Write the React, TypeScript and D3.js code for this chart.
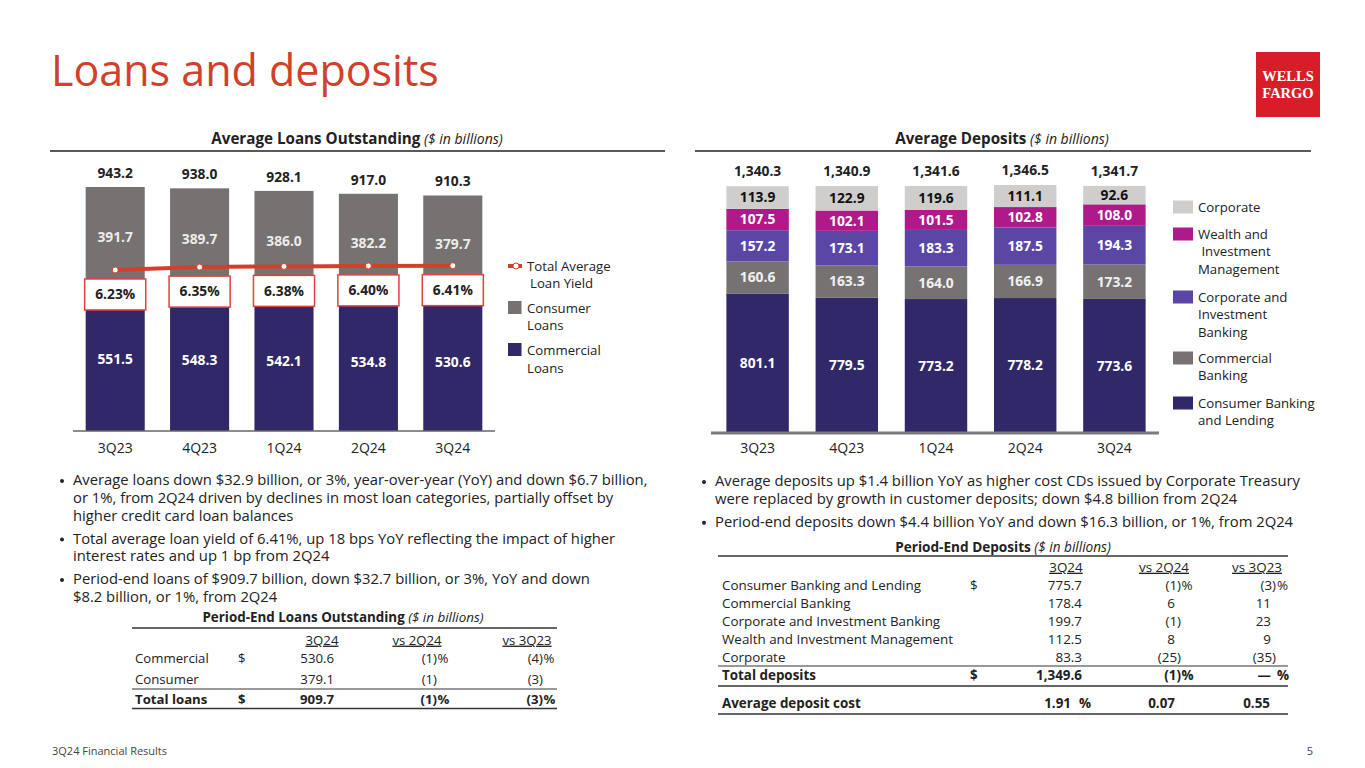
import * as d3 from "d3";
import React from "react";

// ---- data ----
const quarters = ["3Q23", "4Q23", "1Q24", "2Q24", "3Q24"];

const commercialLoans = [551.5, 548.3, 542.1, 534.8, 530.6];
const consumerLoans = [391.7, 389.7, 386.0, 382.2, 379.7];
const totalLoans = [943.2, 938.0, 928.1, 917.0, 910.3];
const loanYield = [6.23, 6.35, 6.38, 6.4, 6.41];

const cblDeposits = [801.1, 779.5, 773.2, 778.2, 773.6];
const commercialBankingDeposits = [160.6, 163.3, 164.0, 166.9, 173.2];
const cibDeposits = [157.2, 173.1, 183.3, 187.5, 194.3];
const wimDeposits = [107.5, 102.1, 101.5, 102.8, 108.0];
const corporateDeposits = [113.9, 122.9, 119.6, 111.1, 92.6];
const totalDeposits = [1340.3, 1340.9, 1341.6, 1346.5, 1341.7];

const loanBullets = [
	[
		"Average loans down $32.9 billion, or 3%, year-over-year (YoY) and down $6.7 billion,",
		"or 1%, from 2Q24 driven by declines in most loan categories, partially offset by",
		"higher credit card loan balances",
	],
	[
		"Total average loan yield of 6.41%, up 18 bps YoY reflecting the impact of higher",
		"interest rates and up 1 bp from 2Q24",
	],
	[
		"Period-end loans of $909.7 billion, down $32.7 billion, or 3%, YoY and down",
		"$8.2 billion, or 1%, from 2Q24",
	],
];

const depositBullets = [
	[
		"Average deposits up $1.4 billion YoY as higher cost CDs issued by Corporate Treasury",
		"were replaced by growth in customer deposits; down $4.8 billion from 2Q24",
	],
	["Period-end deposits down $4.4 billion YoY and down $16.3 billion, or 1%, from 2Q24"],
];

const tableHeaders = ["3Q24", "vs 2Q24", "vs 3Q23"];

const loanRowLabels = ["Commercial", "Consumer", "Total loans"];
const loanRowDollar = [true, false, true];
const loanRow3Q24 = ["530.6", "379.1", "909.7"];
const loanRowVs2Q24 = ["(1)", "(1)", "(1)"];
const loanRowVs3Q23 = ["(4)", "(3)", "(3)"];
const loanRowPct = [true, false, true];

const depRowLabels = [
	"Consumer Banking and Lending",
	"Commercial Banking",
	"Corporate and Investment Banking",
	"Wealth and Investment Management",
	"Corporate",
	"Total deposits",
];
const depRowDollar = [true, false, false, false, false, true];
const depRow3Q24 = ["775.7", "178.4", "199.7", "112.5", "83.3", "1,349.6"];
const depRowVs2Q24 = ["(1)", "6", "(1)", "8", "(25)", "(1)"];
const depRowVs3Q23 = ["(3)", "11", "23", "9", "(35)", "—"];
const depRowPct = [true, false, false, false, false, true];
const depositCost = ["1.91", "0.07", "0.55"];

// ---- styles ----
const FONT = "'Open Sans', 'Noto Sans', sans-serif";
const RED = "#d2402b";
const NAVY = "#31286a";
const GREY = "#777272";
const LIGHT = "#d0cdcd";
const MAGENTA = "#b0198a";
const PURPLE = "#5a47a5";
const TEXT = "#222";

const LoansChart = () => {
	const x = d3.scaleBand().domain(quarters).range([73, 495]).paddingInner(0.3).paddingOuter(0.15);
	const y = d3.scaleLinear().domain([0, 1000]).range([431, 172.3]);
	const yYield = d3.scaleLinear().domain([6.0, 6.5]).range([275.5, 263.5]);
	const bw = x.bandwidth();
	const cx = (q: string) => (x(q) ?? 0) + bw / 2;
	const line = d3
		.line<number>()
		.x((_, i) => cx(quarters[i]))
		.y((d) => yYield(d));

	return (
		<g>
			{quarters.map((q, i) => {
				const c0 = y(0);
				const c1 = y(commercialLoans[i]);
				const c2 = y(commercialLoans[i] + consumerLoans[i]);
				return (
					<g key={q}>
						<rect x={x(q)} y={c1} width={bw} height={c0 - c1} fill={NAVY} />
						<rect x={x(q)} y={c2} width={bw} height={c1 - c2} fill={GREY} />
						<text x={cx(q)} y={(c0 + c1) / 2} dy="0.35em" textAnchor="middle" fill="#fff" fontWeight={700} fontSize={13.8}>
							{commercialLoans[i].toFixed(1)}
						</text>
						<text x={cx(q)} y={(c1 + c2) / 2} dy="0.35em" textAnchor="middle" fill="#ececec" fontWeight={700} fontSize={13.8}>
							{consumerLoans[i].toFixed(1)}
						</text>
						<text x={cx(q)} y={y(totalLoans[i]) - 14} dy="0.35em" textAnchor="middle" fill={TEXT} fontWeight={700} fontSize={13.8}>
							{totalLoans[i].toFixed(1)}
						</text>
						<text x={cx(q)} y={448} dy="0.35em" textAnchor="middle" fill={TEXT} fontSize={14}>
							{q}
						</text>
					</g>
				);
			})}
			<line x1={73} x2={495} y1={y(0)} y2={y(0)} stroke="#666" strokeWidth={1.5} />
			<path d={line(loanYield) ?? ""} fill="none" stroke={RED} strokeWidth={4} />
			{quarters.map((q, i) => (
				<g key={q + "y"}>
					<circle cx={cx(q)} cy={yYield(loanYield[i])} r={3} fill="#fff" stroke={RED} strokeWidth={1} />
					<rect x={(x(q) ?? 0) - 1} y={yYield(loanYield[i]) + 9} width={bw + 2} height={31} fill="#fff" stroke="#e2413c" strokeWidth={1.5} />
					<text x={cx(q)} y={yYield(loanYield[i]) + 24.5} dy="0.35em" textAnchor="middle" fill={TEXT} fontWeight={700} fontSize={13.8}>
						{loanYield[i].toFixed(2)}%
					</text>
				</g>
			))}
			{/* legend */}
			<line x1={508} x2={522} y1={266} y2={266} stroke={RED} strokeWidth={4} />
			<circle cx={516} cy={266} r={3} fill="#fff" stroke={RED} strokeWidth={1} />
			<text x={527} y={266} dy="0.35em" fontSize={13.2} fill={TEXT}>Total Average</text>
			<text x={530} y={283} dy="0.35em" fontSize={13.2} fill={TEXT}>Loan Yield</text>
			<rect x={508} y={301} width={13.5} height={13} fill={GREY} />
			<text x={527} y={308} dy="0.35em" fontSize={13.2} fill={TEXT}>Consumer</text>
			<text x={527} y={325} dy="0.35em" fontSize={13.2} fill={TEXT}>Loans</text>
			<rect x={508} y={343} width={13.5} height={13} fill={NAVY} />
			<text x={527} y={350} dy="0.35em" fontSize={13.2} fill={TEXT}>Commercial</text>
			<text x={527} y={368} dy="0.35em" fontSize={13.2} fill={TEXT}>Loans</text>
		</g>
	);
};

const depositSeries = [
	{ name: "cbl", values: cblDeposits, color: NAVY, label: "#fff" },
	{ name: "cb", values: commercialBankingDeposits, color: GREY, label: "#f0f0f0" },
	{ name: "cib", values: cibDeposits, color: PURPLE, label: "#fff" },
	{ name: "wim", values: wimDeposits, color: MAGENTA, label: "#fff" },
	{ name: "corp", values: corporateDeposits, color: LIGHT, label: "#111" },
];

const depositLegend = [
	{ color: LIGHT, lines: ["Corporate"], y: 207 },
	{ color: MAGENTA, lines: ["Wealth and", " Investment", "Management"], y: 234 },
	{ color: PURPLE, lines: ["Corporate and", "Investment", "Banking"], y: 297 },
	{ color: GREY, lines: ["Commercial", "Banking"], y: 358 },
	{ color: NAVY, lines: ["Consumer Banking", "and Lending"], y: 403 },
];

const DepositsChart = () => {
	const x = d3.scaleBand().domain(quarters).range([713, 1159]).paddingInner(0.3).paddingOuter(0.15);
	const y = d3.scaleLinear().domain([100, 1400]).range([433, 174.3]);
	const bw = x.bandwidth();
	const cx = (q: string) => (x(q) ?? 0) + bw / 2;
	const stack = d3
		.stack<number>()
		.keys(depositSeries.map((s) => s.name))
		.value((i, key) => depositSeries.find((s) => s.name === key)!.values[i])(d3.range(quarters.length));

	return (
		<g>
			{stack.map((layer, li) => (
				<g key={layer.key}>
					{layer.map((seg, i) => {
						const lo = li === 0 ? y.range()[0] : y(seg[0]);
						const hi = y(seg[1]);
						return (
							<g key={i}>
								<rect x={x(quarters[i])} y={hi} width={bw} height={lo - hi} fill={depositSeries[li].color} />
								<text x={cx(quarters[i])} y={(lo + hi) / 2} dy="0.35em" textAnchor="middle" fill={depositSeries[li].label} fontWeight={700} fontSize={13.8}>
									{depositSeries[li].values[i].toFixed(1)}
								</text>
							</g>
						);
					})}
				</g>
			))}
			{quarters.map((q, i) => (
				<g key={q}>
					<text x={cx(q)} y={y(totalDeposits[i]) - 15} dy="0.35em" textAnchor="middle" fill={TEXT} fontWeight={700} fontSize={13.8}>
						{d3.format(",.1f")(totalDeposits[i])}
					</text>
					<text x={cx(q)} y={448} dy="0.35em" textAnchor="middle" fill={TEXT} fontSize={14}>
						{q}
					</text>
				</g>
			))}
			<line x1={711} x2={1159} y1={433} y2={433} stroke="#7a7a7a" strokeWidth={3} />
			{depositLegend.map((l) => (
				<g key={l.lines[0]}>
					<rect x={1173} y={l.y - 6.5} width={20} height={13} fill={l.color} />
					{l.lines.map((t, j) => (
						<text key={j} x={1198} y={l.y + j * 17.7} dy="0.35em" fontSize={13.2} fill={TEXT} style={{ whiteSpace: "pre" }}>
							{t}
						</text>
					))}
				</g>
			))}
		</g>
	);
};

const SectionHeader = ({ cx, title, x1, x2 }: { cx: number; title: string; x1: number; x2: number }) => (
	<g>
		<text x={cx} y={139} dy="0.35em" textAnchor="middle" fontSize={15.2} fill={TEXT}>
			<tspan fontWeight={700}>{title}</tspan>
			<tspan fontStyle="italic" fontSize={14}> ($ in billions)</tspan>
		</text>
		<line x1={x1} x2={x2} y1={151} y2={151} stroke="#222" strokeWidth={1.5} />
	</g>
);

const Bullets = ({ x, y0, items }: { x: number; y0: number; items: string[][] }) => {
	let y = y0;
	const out: React.ReactElement[] = [];
	items.forEach((lines, k) => {
		out.push(<circle key={"b" + k} cx={x + 3} cy={y + 1} r={2} fill={TEXT} />);
		lines.forEach((t, j) => {
			out.push(
				<text key={k + "-" + j} x={x + 14} y={y} dy="0.35em" fontSize={14.8} fill={TEXT}>
					{t}
				</text>
			);
			y += j < lines.length - 1 ? 17.7 : 23;
		});
	});
	return <g>{out}</g>;
};

const LoanTable = () => {
	const rowY = [658, 679, 699];
	return (
		<g fontSize={13.2} fill={TEXT}>
			<text x={343} y={617} dy="0.35em" textAnchor="middle" fontSize={13.4}>
				<tspan fontWeight={700}>Period-End Loans Outstanding</tspan>
				<tspan fontStyle="italic"> ($ in billions)</tspan>
			</text>
			<line x1={132} x2={557} y1={628} y2={628} stroke="#333" strokeWidth={1.5} />
			{[322, 417, 527].map((cx, i) => (
				<text key={i} x={cx} y={640} dy="0.35em" textAnchor="middle" textDecoration="underline">
					{tableHeaders[i]}
				</text>
			))}
			{loanRowLabels.map((lab, i) => {
				const bold = i === loanRowLabels.length - 1 ? 700 : 400;
				return (
					<g key={lab} fontWeight={bold}>
						<text x={135} y={rowY[i]} dy="0.35em">{lab}</text>
						{loanRowDollar[i] && <text x={238} y={rowY[i]} dy="0.35em">$</text>}
						<text x={334} y={rowY[i]} dy="0.35em" textAnchor="end">{loanRow3Q24[i]}</text>
						<text x={437} y={rowY[i]} dy="0.35em" textAnchor="end">{loanRowVs2Q24[i]}</text>
						<text x={543} y={rowY[i]} dy="0.35em" textAnchor="end">{loanRowVs3Q23[i]}</text>
						{loanRowPct[i] && <text x={437.5} y={rowY[i]} dy="0.35em">%</text>}
						{loanRowPct[i] && <text x={543.5} y={rowY[i]} dy="0.35em">%</text>}
					</g>
				);
			})}
			<line x1={132} x2={557} y1={689} y2={689} stroke="#999" strokeWidth={2} />
			<line x1={132} x2={557} y1={708.5} y2={708.5} stroke="#333" strokeWidth={1.5} />
		</g>
	);
};

const DepositTable = () => {
	const rowY = [585, 603, 621, 639, 657, 675];
	const isParen = (s: string) => s.endsWith(")");
	return (
		<g fontSize={13.4} fill={TEXT}>
			<text x={1003} y={547} dy="0.35em" textAnchor="middle" fontSize={13.6}>
				<tspan fontWeight={700}>Period-End Deposits</tspan>
				<tspan fontStyle="italic"> ($ in billions)</tspan>
			</text>
			<line x1={718} x2={1288} y1={556} y2={556} stroke="#333" strokeWidth={1.5} />
			{[1066, 1164, 1257].map((cx, i) => (
				<text key={i} x={cx} y={567} dy="0.35em" textAnchor="middle" textDecoration="underline">
					{tableHeaders[i]}
				</text>
			))}
			{depRowLabels.map((lab, i) => {
				const bold = i === depRowLabels.length - 1 ? 700 : 400;
				const v2 = depRowVs2Q24[i];
				const v3 = depRowVs3Q23[i];
				return (
					<g key={lab} fontWeight={bold}>
						<text x={722} y={rowY[i]} dy="0.35em">{lab}</text>
						{depRowDollar[i] && <text x={970} y={rowY[i]} dy="0.35em">$</text>}
						<text x={1082} y={rowY[i]} dy="0.35em" textAnchor="end">{depRow3Q24[i]}</text>
						<text x={isParen(v2) ? 1181 : 1175} y={rowY[i]} dy="0.35em" textAnchor="end">{v2}</text>
						<text x={isParen(v3) ? 1276 : 1271} y={rowY[i]} dy="0.35em" textAnchor="end">{v3}</text>
						{depRowPct[i] && <text x={1181.5} y={rowY[i]} dy="0.35em">%</text>}
						{depRowPct[i] && <text x={1277} y={rowY[i]} dy="0.35em">%</text>}
					</g>
				);
			})}
			<line x1={718} x2={1288} y1={666} y2={666} stroke="#999" strokeWidth={2} />
			<line x1={718} x2={1288} y1={686} y2={686} stroke="#333" strokeWidth={1.5} />
			<g fontWeight={700}>
				<text x={722} y={703} dy="0.35em">Average deposit cost</text>
				<text x={1071} y={703} dy="0.35em" textAnchor="end">{depositCost[0]}</text>
				<text x={1079} y={703} dy="0.35em">%</text>
				<text x={1175} y={703} dy="0.35em" textAnchor="end">{depositCost[1]}</text>
				<text x={1270} y={703} dy="0.35em" textAnchor="end">{depositCost[2]}</text>
			</g>
			<line x1={718} x2={1288} y1={714} y2={714} stroke="#666" strokeWidth={2} />
		</g>
	);
};

export default function App() {
	return (
		<svg
			width={1365}
			height={768}
			viewBox="0 0 1365 768"
			style={{ position: "absolute", left: 0, top: 0, background: "#fff" }}
			fontFamily={FONT}
		>
			<rect width={1365} height={768} fill="#fff" />
			<text x={51} y={86} fontSize={43} fill={RED}>Loans and deposits</text>
			<rect x={1256} y={52} width={64} height={65} fill="#d71e28" />
			<text x={1288} y={76} dy="0.35em" textAnchor="middle" fill="#fff" fontFamily="'Liberation Serif', 'DejaVu Serif', serif" fontWeight={700} fontSize={14.5}>WELLS</text>
			<text x={1288} y={92.5} dy="0.35em" textAnchor="middle" fill="#fff" fontFamily="'Liberation Serif', 'DejaVu Serif', serif" fontWeight={700} fontSize={14.5}>FARGO</text>

			<SectionHeader cx={357} title="Average Loans Outstanding" x1={50} x2={665} />
			<SectionHeader cx={1002} title="Average Deposits" x1={695} x2={1311} />

			<LoansChart />
			<DepositsChart />

			<Bullets x={59} y0={480} items={loanBullets} />
			<Bullets x={701} y0={481} items={depositBullets} />

			<LoanTable />
			<DepositTable />

			<text x={52} y={751} dy="0.35em" fontSize={11} fill="#444">3Q24 Financial Results</text>
			<text x={1313} y={751} dy="0.35em" fontSize={11} fill="#444" textAnchor="end">5</text>
		</svg>
	);
}
